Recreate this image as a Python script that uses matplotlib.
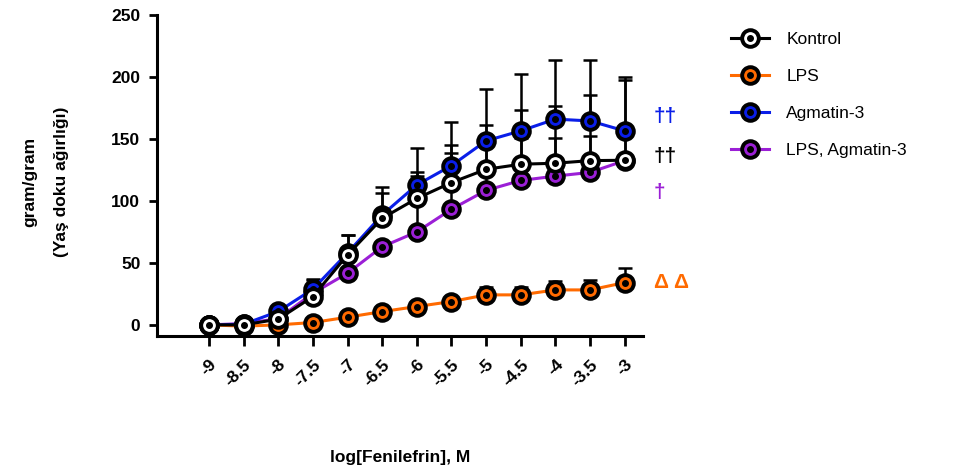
import numpy as np
import matplotlib
matplotlib.use('Agg')
import matplotlib.pyplot as plt
from matplotlib.lines import Line2D

plt.rcParams['font.family'] = ['Liberation Sans', 'DejaVu Sans']

# log[Fenilefrin] doses
doses = [-9, -8.5, -8, -7.5, -7, -6.5, -6, -5.5, -5, -4.5, -4, -3.5, -3]
tick_labels = ['-9', '-8.5', '-8', '-7.5', '-7', '-6.5', '-6', '-5.5', '-5', '-4.5', '-4', '-3.5', '-3']

kontrol = [0, 0, 4.6, 22.8, 56.5, 86, 102, 114.8, 125.5, 129.6, 130.4, 132.5, 132.8]
kontrol_err = [0, 0, 1, 13, 16, 20, 21.6, 30, 36, 44, 46, 53, 67]

lps = [0, -1, 0, 1.9, 6.2, 10.7, 14.8, 18.8, 24.2, 24.2, 28.2, 28.2, 34.1]
lps_err = [0, 0, 0, 0, 0, 0, 0, 0, 6.7, 6.7, 7.3, 8, 11.5]

agmatin = [0, 0.5, 10.8, 28.8, 58, 88.7, 112.9, 128.5, 148.5, 156.5, 166, 164.5, 156.5]
agmatin_err = [0, 0, 1, 8, 14.6, 22.5, 29.5, 35.5, 42, 46, 48, 49, 41]

lps_agm = [0, 1, 5, 25.5, 41.7, 63, 75, 93.3, 108.5, 116.5, 120, 123, 132.5]
lps_agm_err = [0, 0, 0, 0, 0, 0, 45, 45, 37, 34, 31, 29, 23]

names = ['LPS, Agmatin-3', 'Agmatin-3', 'LPS', 'Kontrol']
series = [lps_agm, agmatin, lps, kontrol]
errors = [lps_agm_err, agmatin_err, lps_err, kontrol_err]
colors = ['#9B1FD6', '#0A1EE8', '#FF6A00', 'black']
faces = ['#9B1FD6', '#0A1EE8', '#FF6A00', 'white']

marks = ['††', '††', '†', 'Δ Δ']
mark_y = [168, 135.5, 107, 34]
mark_c = ['#0A1EE8', 'black', '#9B1FD6', '#FF6A00']

fig = plt.figure(figsize=(9.69, 4.68), dpi=100)
ax = fig.add_axes([0.162, 0.282, 0.502, 0.686])

handles = {}
for i in range(len(series)):
    z = 3 + i
    ax.errorbar(doses, series[i], yerr=[np.zeros(len(doses)), errors[i]], fmt='none',
                ecolor='black', elinewidth=1.8, capsize=5, capthick=1.8, zorder=2)
    ln, = ax.plot(doses, series[i], '-o', color=colors[i], lw=2.2, ms=12,
                  mfc=faces[i], mec='black', mew=2.8, zorder=z)
    dot, = ax.plot(doses, series[i], 'o', color='black', ms=4, zorder=z + 0.5)
    handles[names[i]] = (ln, dot)

for i in range(len(marks)):
    ax.text(-2.58, mark_y[i], marks[i], color=mark_c[i], fontsize=15, fontweight='bold',
            ha='left', va='center', clip_on=False)

ax.set_xlim(-9.75, -2.73)
ax.set_ylim(-9, 250)
ax.set_xticks(doses)
ax.set_xticklabels(tick_labels, rotation=45, ha='right', va='top', rotation_mode='anchor',
                   fontsize=12.5, fontweight='bold')
ax.set_yticks([0, 50, 100, 150, 200, 250])
ax.set_yticklabels(['0', '50', '100', '150', '200', '250'], fontsize=12.5, fontweight='bold')
ax.tick_params(axis='x', length=7, width=2, pad=8)
ax.tick_params(axis='y', length=6, width=2, pad=6)
for s in ['top', 'right']:
    ax.spines[s].set_visible(False)
for s in ['left', 'bottom']:
    ax.spines[s].set_linewidth(2.2)

ax.set_xlabel('log[Fenilefrin], M', fontsize=12.5, fontweight='bold')
ax.xaxis.set_label_coords(0.5, -0.355)
ax.set_ylabel('gram/gram\n(Yaş doku ağırlığı)', fontsize=12.5, fontweight='bold',
              linespacing=2.4)
ax.yaxis.set_label_coords(-0.18, 0.48)

order = ['Kontrol', 'LPS', 'Agmatin-3', 'LPS, Agmatin-3']
leg_handles = []
for n in order:
    ln, dot = handles[n]
    h1 = Line2D([], [], color=ln.get_color(), lw=2.2, marker='o', ms=12,
                mfc=ln.get_markerfacecolor(), mec='black', mew=2.8)
    h2 = Line2D([], [], ls='none', marker='o', color='black', ms=4)
    leg_handles.append((h1, h2))
fig.legend(leg_handles, order, loc='upper left', bbox_to_anchor=(0.738, 0.965),
           frameon=False, fontsize=12.5, handlelength=2.2, labelspacing=1.25, handletextpad=1.0)

fig.savefig('out.png', dpi=100)
